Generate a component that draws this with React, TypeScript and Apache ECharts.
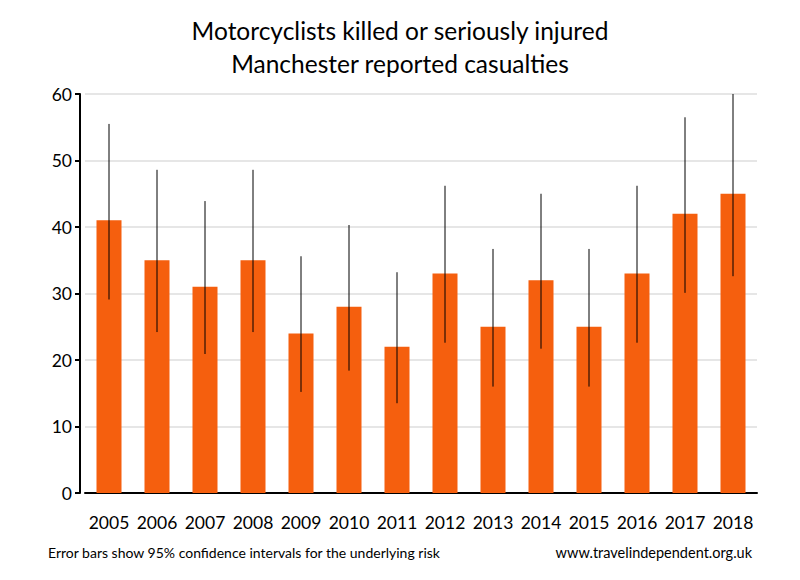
import React, { useEffect, useRef } from "react";
import * as echarts from "echarts";

const years = ["2005", "2006", "2007", "2008", "2009", "2010", "2011", "2012", "2013", "2014", "2015", "2016", "2017", "2018"];
const casualties = [41, 35, 31, 35, 24, 28, 22, 33, 25, 32, 25, 33, 42, 45];
const ciLow = [29.1, 24.2, 20.9, 24.2, 15.2, 18.4, 13.5, 22.6, 16.0, 21.7, 16.0, 22.6, 30.1, 32.6];
const ciHigh = [55.5, 48.6, 43.9, 48.6, 35.6, 40.3, 33.2, 46.2, 36.7, 45.0, 36.7, 46.2, 56.5, 60];
const yTicks = [0, 10, 20, 30, 40, 50, 60];

const FONT = "Lato, 'Open Sans', sans-serif";

export default function App() {
  const ref = useRef<HTMLDivElement>(null);
  useEffect(() => {
    if (!ref.current) return;
    const chart = echarts.init(ref.current, null, { renderer: "svg" });
    const errData = years.map((_, i) => [i, ciLow[i], ciHigh[i]]);
    chart.setOption({
      animation: false,
      backgroundColor: "#ffffff",
      title: {
        text: "Motorcyclists killed or seriously injured\nManchester reported casualties",
        left: "center",
        top: 9,
        textStyle: { fontFamily: FONT, fontSize: 24.5, fontWeight: "normal", color: "#000", lineHeight: 33 },
      },
      grid: { left: 85, right: 43, top: 94, bottom: 87 },
      xAxis: {
        type: "category",
        data: years,
        axisLine: { lineStyle: { color: "#000", width: 2 } },
        axisTick: { show: false },
        axisLabel: { fontFamily: FONT, fontSize: 17.5, color: "#000", margin: 20, interval: 0 },
      },
      yAxis: {
        type: "value",
        min: yTicks[0],
        max: yTicks[yTicks.length - 1],
        interval: 10,
        offset: 5,
        axisLine: { show: true, lineStyle: { color: "#000", width: 2 } },
        axisTick: { show: true, length: 5, lineStyle: { color: "#000", width: 2 } },
        axisLabel: { fontFamily: FONT, fontSize: 17.5, color: "#000", margin: 8 },
        splitLine: { lineStyle: { color: "#e6e6e6", width: 2 } },
      },
      series: [
        {
          type: "bar",
          data: casualties,
          barWidth: 25,
          itemStyle: { color: "#F55F0E" },
        },
        {
          type: "custom",
          data: errData,
          z: 10,
          renderItem: (params: any, api: any) => {
            const i = api.value(0);
            const p1 = api.coord([i, api.value(1)]);
            const p2 = api.coord([i, api.value(2)]);
            return {
              type: "line",
              shape: { x1: p1[0], y1: p1[1], x2: p2[0], y2: p2[1] },
              style: { stroke: "#000", lineWidth: 1 },
            };
          },
        },
      ],
      graphic: [
        {
          type: "text",
          left: 48,
          top: 545,
          style: { text: "Error bars show 95% confidence intervals for the underlying risk", font: `14px ${FONT}`, fill: "#000" },
        },
        {
          type: "text",
          right: 48,
          top: 545,
          style: { text: "www.travelindependent.org.uk", font: `14.5px ${FONT}`, fill: "#000" },
        },
      ],
    });
    return () => chart.dispose();
  }, []);
  return <div ref={ref} style={{ width: 800, height: 580, margin: -8 }} />;
}
